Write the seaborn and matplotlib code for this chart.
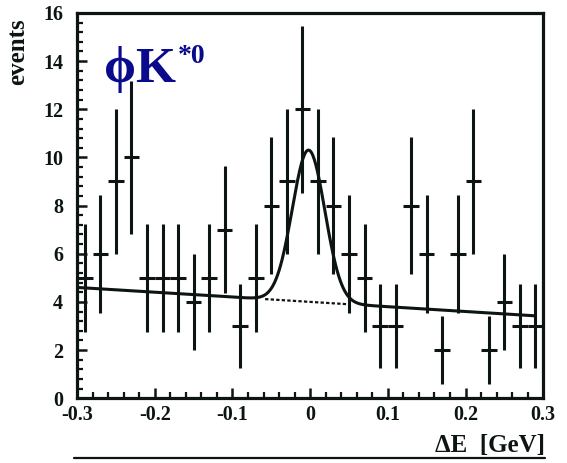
import numpy as np
import pandas as pd
import matplotlib
matplotlib.use("Agg")
import matplotlib.pyplot as plt
from matplotlib.lines import Line2D
import seaborn as sns

# Binned Delta-E distribution (bin width 0.02 GeV)
bin_centers = [-0.29, -0.27, -0.25, -0.23, -0.21, -0.19, -0.17, -0.15, -0.13, -0.11,
               -0.09, -0.07, -0.05, -0.03, -0.01, 0.01, 0.03, 0.05, 0.07, 0.09,
               0.11, 0.13, 0.15, 0.17, 0.19, 0.21, 0.23, 0.25, 0.27, 0.29]
counts = [5, 6, 9, 10, 5, 5, 5, 4, 5, 7,
          3, 5, 8, 9, 12, 9, 8, 6, 5, 3,
          3, 8, 6, 2, 6, 9, 2, 4, 3, 3]
bin_half_width = 0.01

# Fit result: linear background + Gaussian signal
bkg_intercept = 4.0
bkg_slope = -2.0
sig_amplitude = 6.3
sig_mean = -0.002
sig_sigma = 0.021

x_ticks = [-0.3, -0.2, -0.1, 0.0, 0.1, 0.2, 0.3]
x_tick_labels = ["-0.3", "-0.2", "-0.1", "0", "0.1", "0.2", "0.3"]
y_ticks = [0, 2, 4, 6, 8, 10, 12, 14, 16]

sns.set_style("ticks")
plt.rcParams["font.family"] = ["Liberation Serif", "DejaVu Serif"]
plt.rcParams["font.weight"] = "bold"

ink = "#0c1414"
label_blue = "#0a0a8c"

fig = plt.figure(figsize=(5.67, 4.63), dpi=100)
ax = fig.add_axes([0.136, 0.140, 0.822, 0.832])

df = pd.DataFrame({"dE": bin_centers, "events": counts})
df["err"] = np.sqrt(df["events"])

ax.errorbar(df["dE"], df["events"], yerr=df["err"], xerr=bin_half_width,
            fmt="none", ecolor=ink, elinewidth=2.2, capsize=0, zorder=3)

# Fit curves
xs = np.linspace(-0.3, 0.29, 600)
bkg = bkg_intercept + bkg_slope * xs
total = bkg + sig_amplitude * np.exp(-0.5 * ((xs - sig_mean) / sig_sigma) ** 2)
fit_df = pd.DataFrame({"dE": xs, "fit": total})
sns.lineplot(data=fit_df, x="dE", y="fit", ax=ax, color=ink, linewidth=2.2, zorder=4)

xb = np.linspace(-0.058, 0.052, 50)
bkg_df = pd.DataFrame({"dE": xb, "bkg": bkg_intercept + bkg_slope * xb})
sns.lineplot(data=bkg_df, x="dE", y="bkg", ax=ax, color=ink, linewidth=1.6,
             linestyle=(0, (1.5, 1.0)), zorder=4)

ax.set_xlim(-0.3, 0.3)
ax.set_ylim(0, 16)
ax.set_xticks(x_ticks)
ax.set_xticklabels(x_tick_labels)
ax.set_yticks(y_ticks)
ax.set_xticks(np.arange(-0.3, 0.3001, 0.02), minor=True)
ax.set_yticks(np.arange(0, 16.01, 0.4), minor=True)

for side in ["left", "right", "top", "bottom"]:
    ax.spines[side].set_visible(True)
    ax.spines[side].set_linewidth(2.3)
    ax.spines[side].set_color(ink)

ax.tick_params(which="major", direction="in", length=7, width=1.8, color=ink,
               labelsize=14.5, labelcolor=ink)
ax.tick_params(which="minor", direction="in", length=4, width=1.6, color=ink)
ax.tick_params(axis="x", which="both", top=False, pad=5)
ax.tick_params(axis="y", which="both", right=False, pad=10)
for lab in ax.get_xticklabels() + ax.get_yticklabels():
    lab.set_fontweight("bold")

ax.set_xlabel("")
ax.set_ylabel("")

fig.text(0.031, 0.96, "events", rotation=90, ha="center", va="top",
         fontsize=18, fontweight="bold", color=ink)
fig.text(0.962, 0.038, "ΔE  [GeV]", ha="right", va="center",
         fontsize=18, fontweight="bold", color=ink)

# Channel label
ax.text(-0.266, 13.13, "ϕK", fontsize=37, fontweight="bold", color=label_blue,
        ha="left", va="baseline")
ax.text(-0.170, 13.92, "*0", fontsize=20, fontweight="bold", color=label_blue,
        ha="left", va="baseline")

fig.add_artist(Line2D([0.130, 0.962], [0.01, 0.01], transform=fig.transFigure,
                      color=ink, linewidth=1.6))

fig.savefig("out.png", dpi=100)
